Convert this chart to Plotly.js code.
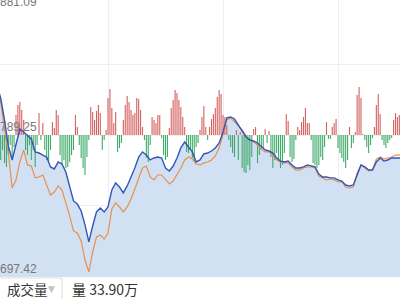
<!DOCTYPE html>
<html><head><meta charset="utf-8">
<script src="https://cdn.plot.ly/plotly-3.0.1.min.js"></script>
<style>html,body{margin:0;padding:0;background:#fff;overflow:hidden}#chart{width:400px;height:299px}</style>
</head><body><div id="chart"></div>
<script>
// price line (every 2 minutes, starting minute 2)
const priceStart = 2, priceStep = 2;
const price = [821.6, 813.2, 799.0, 782.1, 773.1, 782.8, 793.1, 791.2, 788.6, 786.7,
  778.3, 777.6, 776.3, 775.0, 768.6, 767.3, 771.8, 770.5, 765.3, 755.0,
  746.6, 744.6, 740.1, 731.1, 720.1, 730.4, 739.5, 742.1, 739.5, 742.7,
  753.7, 758.2, 755.6, 751.8, 756.3, 762.1, 767.9, 775.0, 778.3, 776.3,
  773.1, 774.4, 775.0, 774.4, 767.9, 766.0, 769.2, 774.4, 780.9, 784.7,
  781.5, 778.3, 771.8, 773.1, 777.0, 777.6, 778.9, 780.9, 784.1, 791.2,
  800.3, 800.9, 799.6, 795.7, 791.8, 788.0, 786.0, 785.4, 784.1, 781.5,
  779.6, 778.9, 777.6, 774.4, 772.4, 771.8, 772.4, 769.9, 767.9, 767.9,
  768.6, 769.9, 769.2, 768.6, 764.0, 762.1, 762.1, 761.5, 761.5, 760.2,
  759.5, 756.9, 756.3, 756.9, 763.4, 769.9, 768.6, 766.6, 766.6, 771.8,
  774.4, 772.4, 773.1, 774.4, 774.4, 774.4, 775.0];
// average price line
const avgPrice = [818.4, 810.6, 792.5, 777.6, 755.0, 760.2, 771.8, 779.6, 769.9, 769.2,
  761.5, 762.1, 763.4, 756.9, 750.5, 752.4, 756.3, 753.7, 745.9, 736.9,
  727.2, 725.9, 720.7, 708.4, 700.7, 713.6, 723.3, 724.6, 722.0, 725.9,
  741.4, 745.3, 742.7, 739.5, 742.7, 747.9, 754.3, 761.5, 767.9, 769.2,
  762.1, 760.2, 763.4, 763.4, 760.8, 757.6, 759.5, 763.4, 767.9, 773.1,
  775.0, 773.7, 770.5, 769.9, 771.2, 771.8, 773.1, 775.7, 780.9, 789.3,
  799.0, 800.3, 797.7, 795.7, 792.5, 788.6, 786.0, 784.7, 782.8, 780.2,
  778.3, 778.3, 776.3, 773.1, 771.8, 771.2, 771.2, 768.6, 766.6, 766.6,
  767.9, 768.6, 768.6, 767.9, 762.7, 761.5, 760.2, 760.8, 760.2, 758.9,
  758.9, 755.6, 755.0, 755.6, 764.7, 769.9, 767.9, 766.0, 766.6, 773.7,
  775.0, 773.7, 774.4, 775.0, 776.3, 776.3, 776.3];
// buy/sell flow bars (one per minute, starting minute 4)
const flowStart = 4;
const flow = [-25,-15,-28,-32,-20,-10,-22,-12, 20,30,33,25,15, -15,-20,-10,-25,-15,-32,-10,
  22,-5,12,-15,-25,-26,-15, 13,7,25,20, -20,-30,-25,-33,-32,-27,-20,-15, 20,8,
  -10,-23,-33,-40,-22,-5, 28,23,15,24,30,22, -15,-5, 5,37,46,27,12,23, -17,-13,-8,
  15,30,39,33,25,20,22,37,36,25,8, -5,-23,-27,-10, 18,15,12,20,20, -3,-20,-25,-22,
  7,27,35,45,42,35,28,18,8, -17,-18,-15,-23,-27,-12,-8, 5,18,29,8, -5,
  8,16,21,27,38,45,41,20,18,10, -5,-12,-18,-22,5,-25,3,
  -33,-37,-38,-30,-35,-22,6,8,-28,-20,-15,-13, 6,-8,4,-22,-33,-25,-18,
  -25,-33,-30,-18, 21,14, -22,-27,-24,-5, 8,5,13,18,27,12,12,
  -5,-28,-30,-33,-30,-22,-25,-12, 13,-4,-4, 8,12,16, -13,-18,-23,-27,-33,-25,
  8,-13,-8,3, 40,48,37,1, -5,-12,-18,-10,-3, 8,30,41,21, -5,-10,-13,-8,-5,-3, 15,22,18,20];
const axisLabels = ['881.09', '789.25', '697.42'];
const axisValues = [881.09, 789.25, 697.42];
const volumeLabel = '成交量';
const volumeValue = '量 33.90万';

const priceX = price.map((_, k) => priceStart + k * priceStep);

// flow bars drawn as thin vertical stems from the zero line
function stems(sign) {
  const xs = [], ys = [];
  flow.forEach((v, k) => {
    if ((sign > 0 && v > 0) || (sign < 0 && v < 0)) {
      xs.push(flowStart + k, flowStart + k, null);
      ys.push(0, v, null);
    }
  });
  return {xs, ys};
}
const up = stems(1), down = stems(-1);

const yTop = 876.56, yBot = 697.42;
const plotH = 277;
const traces = [
  {x: priceX, y: price, type: 'scatter', mode: 'lines', fill: 'tozeroy',
   fillcolor: 'rgb(209,225,243)', line: {width: 0, color: 'rgba(0,0,0,0)'}, hoverinfo: 'skip', yaxis: 'y'},
  {x: up.xs, y: up.ys, type: 'scatter', mode: 'lines', connectgaps: false,
   line: {color: 'rgb(214,95,95)', width: 1.1}, yaxis: 'y2'},
  {x: down.xs, y: down.ys, type: 'scatter', mode: 'lines', connectgaps: false,
   line: {color: 'rgb(62,170,105)', width: 1.1}, yaxis: 'y2'},
  {x: priceX, y: avgPrice, type: 'scatter', mode: 'lines', line: {color: '#e8904e', width: 1.2}, yaxis: 'y3'},
  {x: priceX, y: price, type: 'scatter', mode: 'lines', line: {color: '#3357b8', width: 1.4}, yaxis: 'y3'}
];

const labelPaperY = axisValues.map(v => (v - yBot) / (yTop - yBot));
const annotations = axisLabels.map((t, k) => ({
  text: t, xref: 'paper', x: 0, xanchor: 'left', xshift: -2,
  yref: 'paper', y: labelPaperY[k], yanchor: k === 0 ? 'top' : 'bottom', yshift: k === 0 ? 0 : -1,
  showarrow: false, font: {family: 'Arial, Liberation Sans, sans-serif', size: 12, color: '#777777'}
}));
annotations.push({text: volumeLabel, xref: 'paper', x: 7 / 400, xanchor: 'left', xshift: -2,
  yref: 'paper', y: -0.043, yanchor: 'middle', showarrow: false,
  font: {family: 'Noto Sans CJK SC', size: 13.5, color: '#333'}});
annotations.push({text: '▼', xref: 'paper', x: 48 / 400, xanchor: 'left', xshift: -2,
  yref: 'paper', y: -0.045, yanchor: 'middle', showarrow: false,
  font: {family: 'DejaVu Sans', size: 9, color: '#c4c4c4'}});
annotations.push({text: volumeValue, xref: 'paper', x: 72 / 400, xanchor: 'left', xshift: -2,
  yref: 'paper', y: -0.043, yanchor: 'middle', showarrow: false,
  font: {family: 'Noto Sans CJK SC', size: 14, color: '#333'}});

const layout = {
  width: 400, height: 299, margin: {l: 0, r: 0, t: 0, b: 22},
  paper_bgcolor: '#fff', plot_bgcolor: '#fff', showlegend: false,
  xaxis: {range: [3.652, 212.35], tickvals: [60, 120, 180], showgrid: true, gridcolor: '#efefef',
    showticklabels: false, ticks: '', zeroline: false, showline: false, fixedrange: true},
  yaxis: {range: [yBot, yTop], tickvals: [835.17, 789.25, 743.34], showgrid: true, gridcolor: '#efefef',
    showticklabels: false, ticks: '', zeroline: false, showline: false, fixedrange: true},
  yaxis2: {overlaying: 'y', range: [-142, 135], visible: false, fixedrange: true},
  yaxis3: {overlaying: 'y', range: [yBot, yTop], visible: false, fixedrange: true},
  annotations: annotations,
  shapes: [
    {type: 'line', xref: 'paper', yref: 'paper', x0: 0, x1: 62 / 400, y0: -1 / plotH, y1: -1 / plotH, line: {color: '#dddddd', width: 1}},
    {type: 'line', xref: 'paper', yref: 'paper', x0: 62 / 400, x1: 62 / 400, y0: -1 / plotH, y1: -0.08, line: {color: '#dddddd', width: 1}}
  ]
};
Plotly.newPlot('chart', traces, layout, {displayModeBar: false, staticPlot: true});
</script></body></html>
